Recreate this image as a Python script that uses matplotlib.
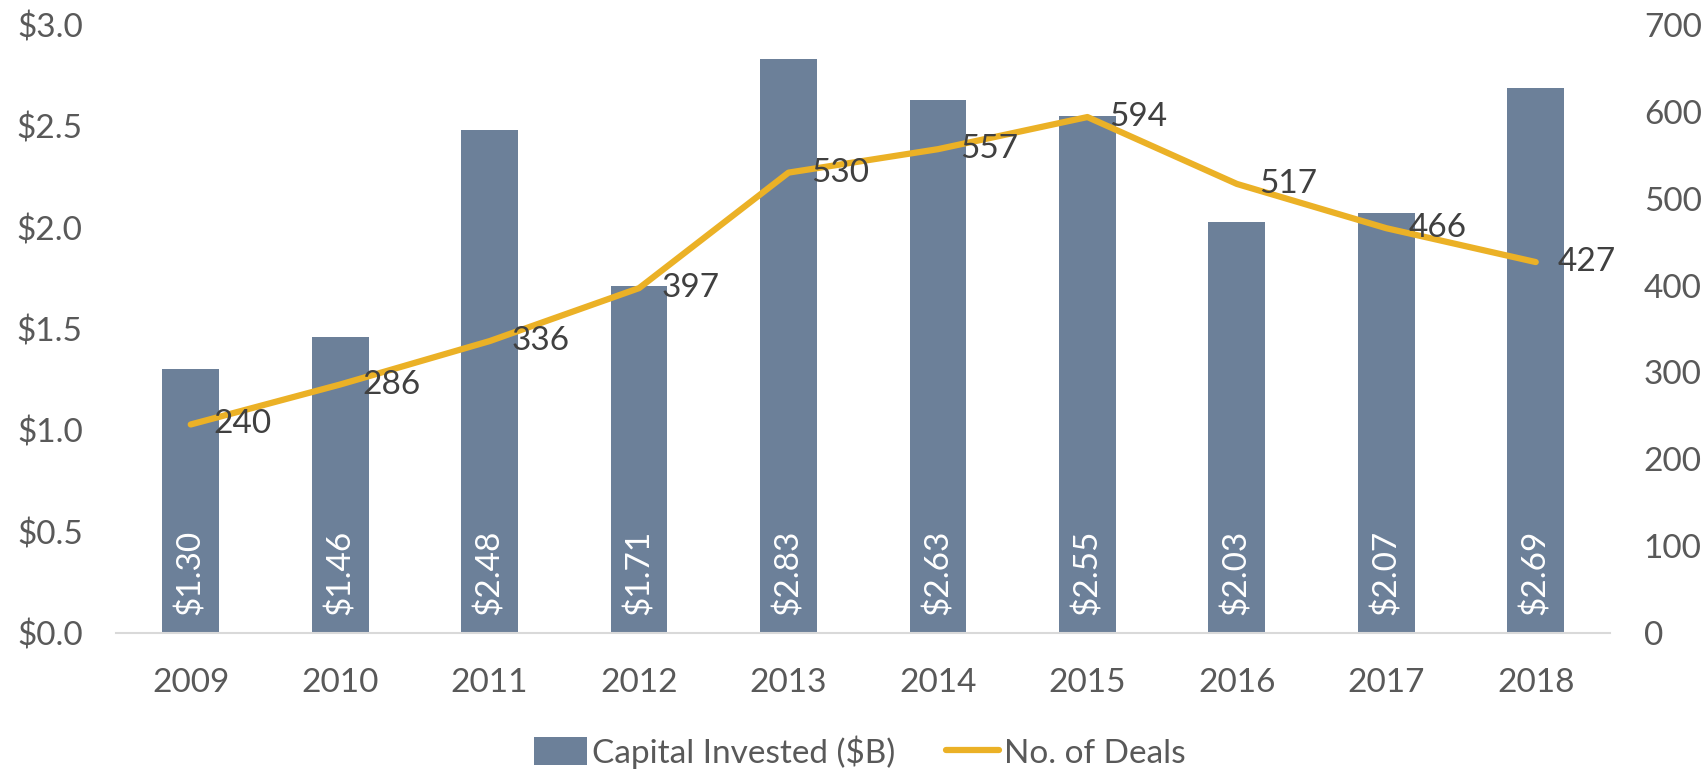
import matplotlib
matplotlib.use("Agg")
import matplotlib.pyplot as plt
import numpy as np

years = ["2009", "2010", "2011", "2012", "2013", "2014", "2015", "2016", "2017", "2018"]
capital = [1.30, 1.46, 2.48, 1.71, 2.83, 2.63, 2.55, 2.03, 2.07, 2.69]
deals = [240, 286, 336, 397, 530, 557, 594, 517, 466, 427]
left_ticks = [0.0, 0.5, 1.0, 1.5, 2.0, 2.5, 3.0]
right_ticks = [0, 100, 200, 300, 400, 500, 600, 700]

BAR = "#6c8099"
LINE = "#ebb126"
TICK = "#595959"
LAB = "#404040"

plt.rcParams['font.family'] = ['Lato', 'DejaVu Sans']

fig = plt.figure(figsize=(17.06, 7.69), dpi=100)
ax = fig.add_axes([0.068, 0.177, 0.876, 0.7905])
x = np.arange(len(years))
bars = ax.bar(x, capital, width=0.38, color=BAR, label="Capital Invested ($B)", zorder=2)
ax.set_xlim(-0.5, len(years) - 0.5)
ax.set_ylim(0, 3.0)
ax.set_yticks(left_ticks)
ax.set_yticklabels([f"${v:.1f}" for v in left_ticks])
ax.set_xticks(x)
ax.set_xticklabels(years)
for s in ["top", "right", "left"]:
    ax.spines[s].set_visible(False)
ax.spines["bottom"].set_color("#d9d9d9")
ax.spines["bottom"].set_linewidth(1.5)
ax.tick_params(axis="both", length=0, labelsize=24, labelcolor=TICK)
ax.tick_params(axis="y", pad=24)
ax.tick_params(axis="x", pad=25)

for xi, v in zip(x, capital):
    ax.annotate(f"${v:.2f}", (xi, 0), xytext=(0, 13), textcoords="offset points",
                rotation=90, ha="center", va="bottom", color="white", fontsize=24, zorder=4)

ax2 = ax.twinx()
ax2.set_ylim(0, 700)
ax2.set_yticks(right_ticks)
for s in ["top", "right", "left", "bottom"]:
    ax2.spines[s].set_visible(False)
ax2.tick_params(axis="y", length=0, labelsize=24, labelcolor=TICK, pad=24)
line, = ax2.plot(x, deals, color=LINE, lw=4.5, solid_capstyle="round", label="No. of Deals", zorder=3)
for xi, v in zip(x, deals):
    ax2.annotate(f"{v}", (xi, v), xytext=(16, 0), textcoords="offset points",
                 ha="left", va="center", color=LAB, fontsize=24)

fig.legend([bars, line], ["Capital Invested ($B)", "No. of Deals"], loc="center",
           bbox_to_anchor=(0.504, 0.022), ncol=2, frameon=False, fontsize=24,
           labelcolor=TICK, handlelength=1.6, handletextpad=0.15, columnspacing=1.5,
           handleheight=0.9)

fig.savefig("out.png", dpi=100)
